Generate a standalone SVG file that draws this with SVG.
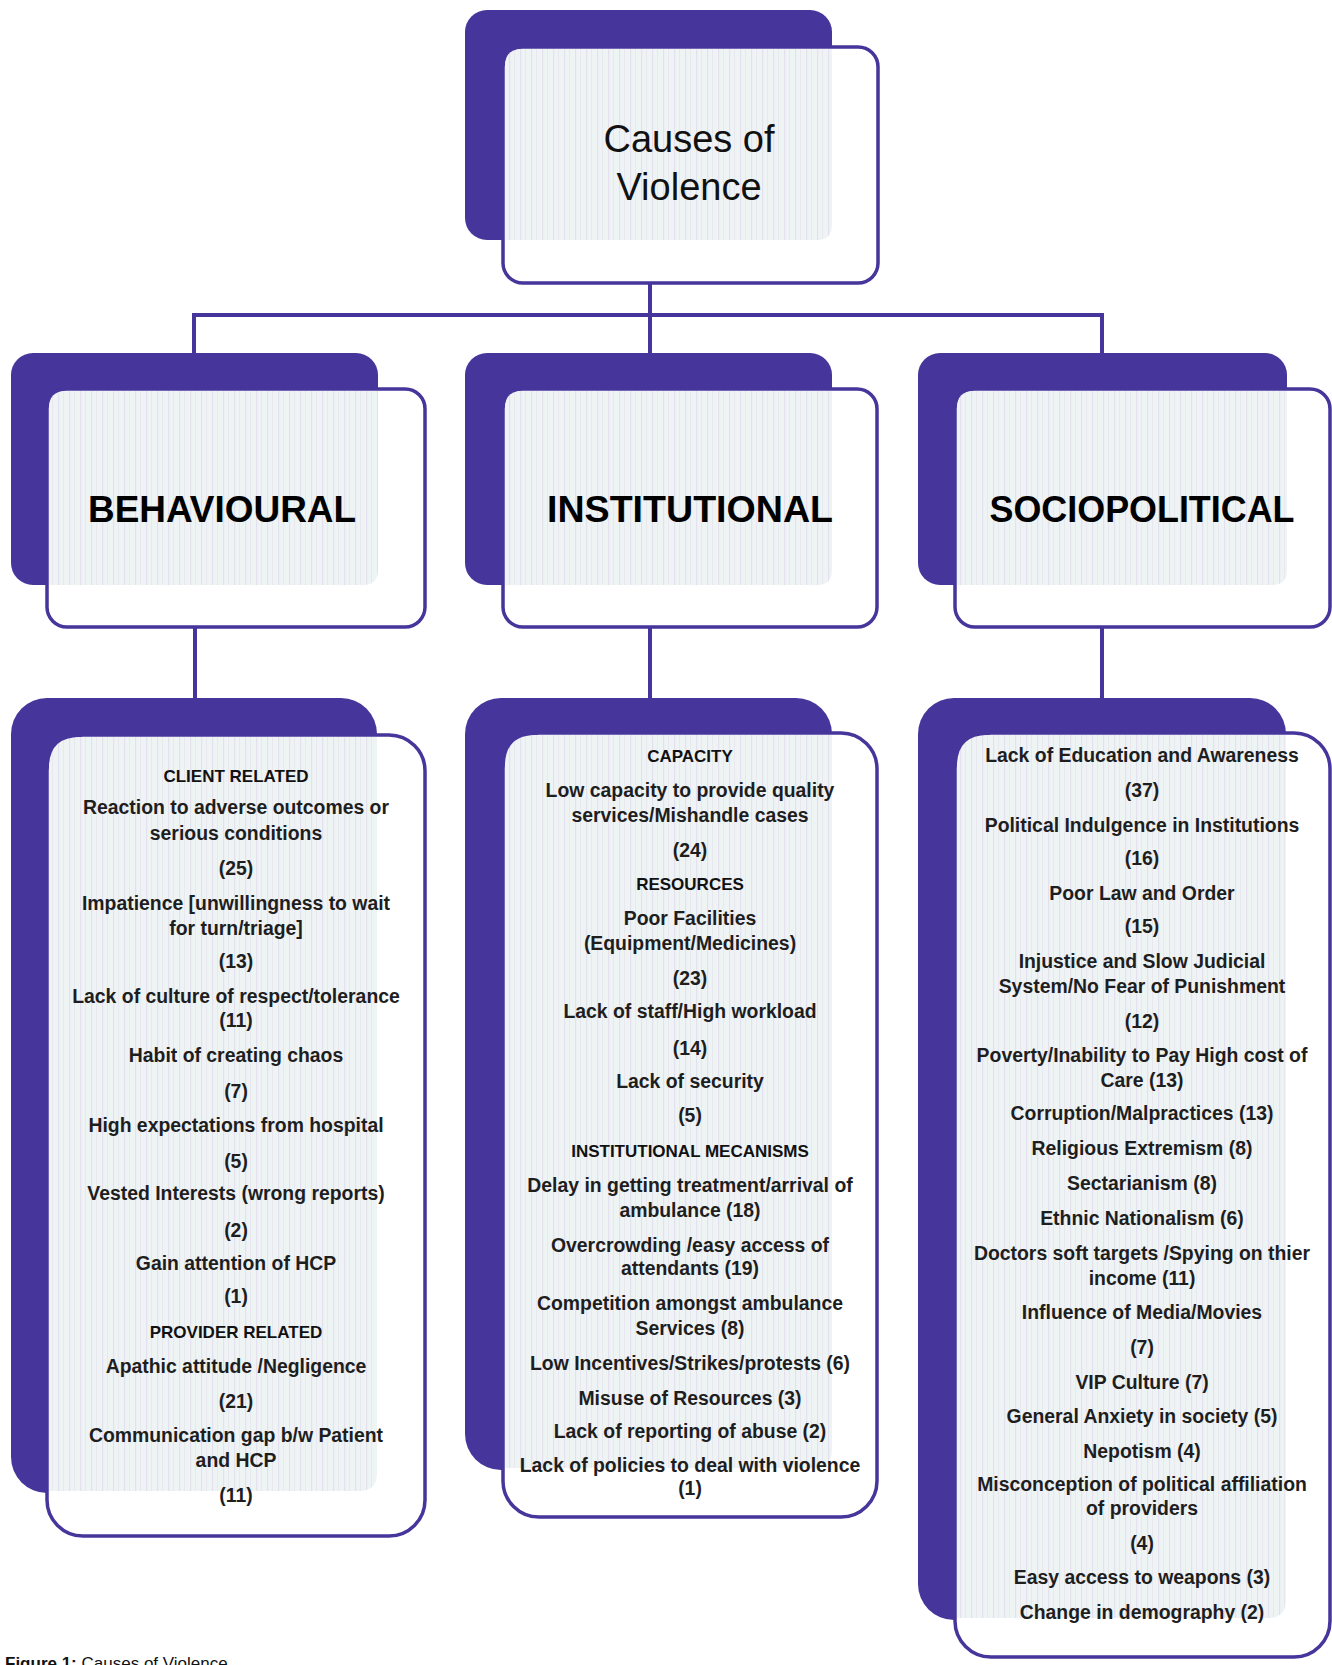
<svg xmlns="http://www.w3.org/2000/svg" width="1332" height="1665" viewBox="0 0 1332 1665">
<defs>
<pattern id="stripes" patternUnits="userSpaceOnUse" width="11" height="10">
<rect width="11" height="10" fill="#eef3f4"/>
<rect x="3" width="1.2" height="10" fill="#e4e0ef"/>
<rect x="8" width="0.8" height="10" fill="#e8e6f1"/>
</pattern>
<style>
.back{fill:#46359b;}
.front{fill:#ffffff;stroke:#46359b;stroke-width:3.5;}
.light{fill:url(#stripes);}
.conn{fill:none;stroke:#46359b;stroke-width:4;}
.title{font-family:"Liberation Sans",Arial,sans-serif;font-size:38px;fill:#111;text-anchor:middle;}
.head{font-family:"Liberation Sans",Arial,sans-serif;font-size:37px;font-weight:bold;fill:#000;text-anchor:middle;}
.item{font-family:"Liberation Sans",Arial,sans-serif;font-size:19.4px;font-weight:bold;fill:#1e1e1e;text-anchor:middle;}
.sub{font-family:"Liberation Sans",Arial,sans-serif;font-size:17px;font-weight:bold;fill:#111;text-anchor:middle;}
.cap{font-family:"Liberation Sans",Arial,sans-serif;font-size:17px;fill:#111;}
</style>
</defs>
<rect width="1332" height="1665" fill="#ffffff"/>

<g id="connectors">
<path class="conn" d="M650 283 V353"/>
<path class="conn" d="M194 315 H1102"/>
<path class="conn" d="M194 313 V353"/>
<path class="conn" d="M1102 313 V353"/>
<path class="conn" d="M195 627 V698"/>
<path class="conn" d="M650 627 V698"/>
<path class="conn" d="M1102 627 V698"/>
</g>

<g id="node-root">
<rect class="back" x="465" y="10" width="367" height="230" rx="22"/>
<rect class="front" x="503" y="47" width="375" height="236" rx="20"/>
<path class="light" d="M522 49 H832 V225 Q832 240 817 240 H505 V66 Q505 49 522 49 Z"/>
<text class="title" x="689" y="152">Causes of</text>
<text class="title" x="689" y="200">Violence</text>
</g>

<g id="node-behavioural">
<rect class="back" x="11" y="353" width="367" height="232" rx="22"/>
<rect class="front" x="47" y="389" width="378" height="238" rx="20"/>
<path class="light" d="M66 391 H378 V570 Q378 585 363 585 H49 V408 Q49 391 66 391 Z"/>
<text class="head" x="222" y="522" textLength="268" lengthAdjust="spacingAndGlyphs">BEHAVIOURAL</text>
</g>

<g id="node-institutional">
<rect class="back" x="465" y="353" width="367" height="232" rx="22"/>
<rect class="front" x="503" y="389" width="374" height="238" rx="20"/>
<path class="light" d="M522 391 H832 V570 Q832 585 817 585 H505 V408 Q505 391 522 391 Z"/>
<text class="head" x="690" y="522" textLength="286" lengthAdjust="spacingAndGlyphs">INSTITUTIONAL</text>
</g>

<g id="node-sociopolitical">
<rect class="back" x="918" y="353" width="369" height="232" rx="22"/>
<rect class="front" x="955" y="389" width="375" height="238" rx="20"/>
<path class="light" d="M974 391 H1287 V570 Q1287 585 1272 585 H957 V408 Q957 391 974 391 Z"/>
<text class="head" x="1142" y="522" textLength="305" lengthAdjust="spacingAndGlyphs">SOCIOPOLITICAL</text>
</g>

<g id="node-behavioural-details">
<rect class="back" x="11" y="698" width="366" height="795" rx="36"/>
<rect class="front" x="47" y="735" width="378" height="801" rx="36"/>
<path class="light" d="M80 737 H377 V1473 Q377 1491 359 1491 H49 V768 Q49 737 80 737 Z"/>
<text class="sub" x="236" y="782">CLIENT RELATED</text>
<text class="item" x="236" y="814">Reaction to adverse outcomes or</text>
<text class="item" x="236" y="840">serious conditions</text>
<text class="item" x="236" y="875">(25)</text>
<text class="item" x="236" y="910">Impatience [unwillingness to wait</text>
<text class="item" x="236" y="935">for turn/triage]</text>
<text class="item" x="236" y="968">(13)</text>
<text class="item" x="236" y="1003">Lack of culture of respect/tolerance</text>
<text class="item" x="236" y="1027">(11)</text>
<text class="item" x="236" y="1062">Habit of creating chaos</text>
<text class="item" x="236" y="1098">(7)</text>
<text class="item" x="236" y="1132">High expectations from hospital</text>
<text class="item" x="236" y="1168">(5)</text>
<text class="item" x="236" y="1200">Vested Interests (wrong reports)</text>
<text class="item" x="236" y="1237">(2)</text>
<text class="item" x="236" y="1270">Gain attention of HCP</text>
<text class="item" x="236" y="1303">(1)</text>
<text class="sub" x="236" y="1338">PROVIDER RELATED</text>
<text class="item" x="236" y="1373">Apathic attitude /Negligence</text>
<text class="item" x="236" y="1408">(21)</text>
<text class="item" x="236" y="1442">Communication gap  b/w Patient</text>
<text class="item" x="236" y="1467">and HCP</text>
<text class="item" x="236" y="1502">(11)</text>
</g>

<g id="node-institutional-details">
<rect class="back" x="465" y="698" width="367" height="772" rx="36"/>
<rect class="front" x="503" y="733" width="374" height="784" rx="36"/>
<path class="light" d="M536 735 H832 V1450 Q832 1468 814 1468 H505 V766 Q505 735 536 735 Z"/>
<text class="sub" x="690" y="762">CAPACITY</text>
<text class="item" x="690" y="797">Low capacity to provide quality</text>
<text class="item" x="690" y="822">services/Mishandle cases</text>
<text class="item" x="690" y="857">(24)</text>
<text class="sub" x="690" y="890">RESOURCES</text>
<text class="item" x="690" y="925">Poor Facilities</text>
<text class="item" x="690" y="950">(Equipment/Medicines)</text>
<text class="item" x="690" y="985">(23)</text>
<text class="item" x="690" y="1018">Lack of staff/High workload</text>
<text class="item" x="690" y="1055">(14)</text>
<text class="item" x="690" y="1088">Lack of security</text>
<text class="item" x="690" y="1122">(5)</text>
<text class="sub" x="690" y="1157">INSTITUTIONAL MECANISMS</text>
<text class="item" x="690" y="1192">Delay in getting treatment/arrival of</text>
<text class="item" x="690" y="1217">ambulance (18)</text>
<text class="item" x="690" y="1252">Overcrowding /easy access of</text>
<text class="item" x="690" y="1275">attendants  (19)</text>
<text class="item" x="690" y="1310">Competition amongst ambulance</text>
<text class="item" x="690" y="1335">Services  (8)</text>
<text class="item" x="690" y="1370">Low Incentives/Strikes/protests (6)</text>
<text class="item" x="690" y="1405">Misuse of Resources (3)</text>
<text class="item" x="690" y="1438">Lack of reporting of abuse (2)</text>
<text class="item" x="690" y="1472">Lack of policies to deal with violence</text>
<text class="item" x="690" y="1495">(1)</text>
</g>

<g id="node-sociopolitical-details">
<rect class="back" x="918" y="698" width="368" height="922" rx="36"/>
<rect class="front" x="955" y="733" width="375" height="924" rx="36"/>
<path class="light" d="M988 735 H1286 V1600 Q1286 1618 1268 1618 H957 V766 Q957 735 988 735 Z"/>
<text class="item" x="1142" y="762">Lack of  Education and Awareness</text>
<text class="item" x="1142" y="797">(37)</text>
<text class="item" x="1142" y="832">Political Indulgence in Institutions</text>
<text class="item" x="1142" y="865">(16)</text>
<text class="item" x="1142" y="900">Poor Law and Order</text>
<text class="item" x="1142" y="933">(15)</text>
<text class="item" x="1142" y="968">Injustice and Slow Judicial</text>
<text class="item" x="1142" y="993">System/No Fear of Punishment</text>
<text class="item" x="1142" y="1028">(12)</text>
<text class="item" x="1142" y="1062">Poverty/Inability to Pay High cost of</text>
<text class="item" x="1142" y="1087">Care (13)</text>
<text class="item" x="1142" y="1120">Corruption/Malpractices (13)</text>
<text class="item" x="1142" y="1155">Religious Extremism (8)</text>
<text class="item" x="1142" y="1190">Sectarianism (8)</text>
<text class="item" x="1142" y="1225">Ethnic Nationalism (6)</text>
<text class="item" x="1142" y="1260">Doctors soft targets /Spying on thier</text>
<text class="item" x="1142" y="1285">income (11)</text>
<text class="item" x="1142" y="1319">Influence of Media/Movies</text>
<text class="item" x="1142" y="1354">(7)</text>
<text class="item" x="1142" y="1389">VIP Culture (7)</text>
<text class="item" x="1142" y="1423">General Anxiety in society (5)</text>
<text class="item" x="1142" y="1458">Nepotism (4)</text>
<text class="item" x="1142" y="1491">Misconception of political affiliation</text>
<text class="item" x="1142" y="1515">of providers</text>
<text class="item" x="1142" y="1550">(4)</text>
<text class="item" x="1142" y="1584">Easy access to weapons (3)</text>
<text class="item" x="1142" y="1619">Change in demography (2)</text>
</g>

<text class="cap" x="5" y="1669"><tspan font-weight="bold">Figure 1:</tspan> Causes of Violence</text>
</svg>
